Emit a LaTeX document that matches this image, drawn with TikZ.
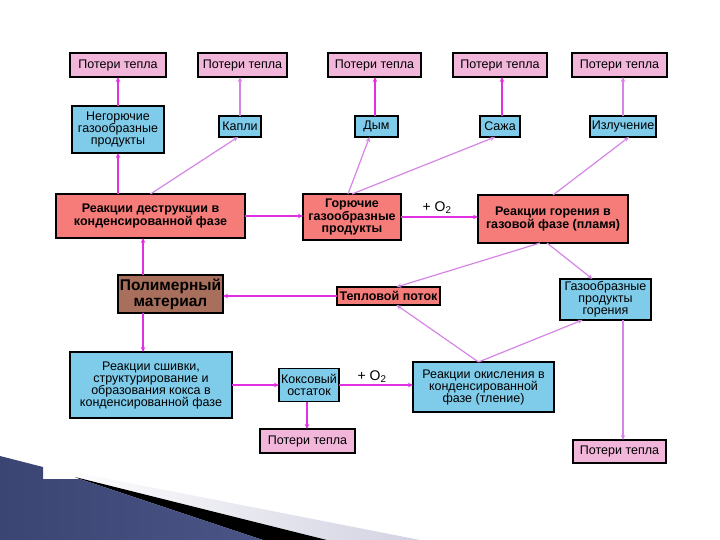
\documentclass[tikz,border=0pt]{standalone}
\usepackage{fontspec}
\setmainfont{Liberation Sans}
\usetikzlibrary{arrows.meta,calc}
\definecolor{pinkf}{HTML}{F2B6DA}
\definecolor{bluef}{HTML}{7FCBEA}
\definecolor{redf}{HTML}{F67C7A}
\definecolor{brownf}{HTML}{A8705C}
\definecolor{mag}{HTML}{E030E0}
\definecolor{vio}{HTML}{D585E5}
\definecolor{slateA}{HTML}{3B4573}
\definecolor{slateB}{HTML}{7E87B8}
\definecolor{slateC}{HTML}{4A5587}
\definecolor{greyband}{HTML}{D2D2E2}
\begin{document}
\begin{tikzpicture}[x=1pt,y=-1pt,
  box/.style={draw=black,line width=1.5pt,inner sep=0pt,outer sep=0pt,align=center,
    font=\fontsize{12.5}{12}\selectfont},
  loss/.style={box,fill=pinkf},
  bluebox/.style={box,fill=bluef},
  redbox/.style={box,fill=redf,font=\fontsize{12.5}{12.5}\selectfont\bfseries},
  arr/.style={draw=mag,line width=2.1pt,-{Stealth[length=5pt,width=4.5pt]}},
  arl/.style={draw=vio,line width=1.2pt,-{Stealth[length=5pt,width=4.5pt]}},
  oxy/.style={font=\fontsize{14}{14}\selectfont,inner sep=0pt}]
\useasboundingbox (0,0) rectangle (720,540);
% decorative ornament
\shade[left color=white,right color=greyband] (58,469) -- (420,540) -- (327,540) -- (75,477) -- cycle;
\fill[black] (75,477) -- (327,540) -- (263,540) -- (80,479) -- cycle;
\shade[left color=slateA,middle color=slateB,right color=slateC]
  (0,456) -- (43,467) -- (43,479) -- (80,479) -- (263,540) -- (0,540) -- cycle;
% top row
\node[loss,minimum width=96pt,minimum height=24pt] (p1) at (118,65) {Потери тепла};
\node[loss,minimum width=89pt,minimum height=24pt] (p2) at (242.5,65) {Потери тепла};
\node[loss,minimum width=93pt,minimum height=24pt] (p3) at (374.5,65) {Потери тепла};
\node[loss,minimum width=94pt,minimum height=24pt] (p4) at (500,65) {Потери тепла};
\node[loss,minimum width=95pt,minimum height=24pt] (p5) at (619.5,65) {Потери тепла};
% second row
\node[bluebox,minimum width=92pt,minimum height=47pt] (ng) at (118,129.5) {Негорючие\\газообразные\\продукты};
\node[bluebox,minimum width=42pt,minimum height=21pt] (kap) at (240,126.5) {Капли};
\node[bluebox,minimum width=43pt,minimum height=21pt] (dym) at (376.5,126.5) {Дым};
\node[bluebox,minimum width=40pt,minimum height=21pt] (saz) at (500,126.5) {Сажа};
\node[bluebox,minimum width=66pt,minimum height=21pt] (izl) at (623,126.5) {Излучение};
% third row
\node[redbox,minimum width=189pt,minimum height=44pt] (des) at (150.5,216) {Реакции деструкции в\\конденсированной фазе};
\node[redbox,minimum width=98pt,minimum height=46pt] (gor) at (352,217) {Горючие\\газообразные\\продукты};
\node[redbox,minimum width=150pt,minimum height=48pt] (pl) at (553,219) {Реакции горения в\\газовой фазе (пламя)};
% fourth row
\node[box,fill=brownf,minimum width=105pt,minimum height=38pt,font=\fontsize{15.5}{16}\selectfont\bfseries] (pol) at (170.5,294) {Полимерный\\материал};
\node[redbox,minimum width=103pt,minimum height=18pt] (tep) at (388.5,296) {Тепловой поток};
\node[bluebox,minimum width=91pt,minimum height=41pt] (gpg) at (605.5,299.5) {Газообразные\\продукты\\горения};
% fifth row
\node[bluebox,minimum width=162pt,minimum height=66pt] (ssh) at (151,385) {Реакции сшивки,\\структурирование и\\образования кокса в\\конденсированной фазе};
\node[bluebox,minimum width=60pt,minimum height=33pt] (kok) at (309,385) {Коксовый\\остаток};
\node[bluebox,minimum width=141pt,minimum height=50pt] (oki) at (483.5,387) {Реакции окисления в\\конденсированной\\фазе (тление)};
% bottom
\node[loss,minimum width=95pt,minimum height=24pt] (pb1) at (307.5,441) {Потери тепла};
\node[loss,minimum width=93pt,minimum height=23pt] (pb2) at (619.5,451.5) {Потери тепла};
% labels
\node[oxy] (o1) at (437,208) {+ O\textsubscript{2}};
\node[oxy] (o2) at (372,377) {+ O\textsubscript{2}};
% connectors to top losses
\draw[arr] (ng.north) -- (ng.north |- p1.south);
\draw[arl] (kap.north) -- (kap.north |- p2.south);
\draw[arr] ([xshift=-1.5pt]dym.north) -- ([xshift=-1.5pt]dym.north |- p3.south);
\draw[arr] ([xshift=2pt]saz.north) -- ([xshift=2pt]saz.north |- p4.south);
\draw[arl] (izl.north) -- (izl.north |- p5.south);
% from destruction
\draw[arr] (ng.south |- des.north) -- (ng.south);
\draw[arl] (des.north) -- ([xshift=-2pt]kap.south);
\draw[arr] (des.east) -- (des.east -| gor.west);
% from combustible gases
\draw[arl] ([xshift=-4pt]gor.north) -- ([xshift=-7pt]dym.south);
\draw[arl] (gor.north) -- ([xshift=-5pt]saz.south);
\draw[arr] (gor.east) -- (gor.east -| pl.west);
% from flame
\draw[arl] (pl.north) -- ([xshift=6pt]izl.south);
\draw[arl] ([xshift=-13pt]pl.south) -- ([xshift=8pt]tep.north);
\draw[arl] ([xshift=-6pt]pl.south) -- ([xshift=-13pt]gpg.north);
% polymer
\draw[arr] (tep.west) -- (tep.west -| pol.east);
\draw[arr] ([xshift=25pt]pol.north west) -- ([xshift=25pt]pol.north west |- des.south);
\draw[arr] ([xshift=25pt]pol.south west) -- ([xshift=25pt]pol.south west |- ssh.north);
% char
\draw[arr] (ssh.east) -- (ssh.east -| kok.west);
\draw[arr] (kok.east) -- (kok.east -| oki.west);
\draw[arr] ([xshift=-2pt]kok.south) -- ([xshift=-2pt]kok.south |- pb1.north);
% oxidation
\draw[arl] ([xshift=-5pt]oki.north) -- ([xshift=8pt]tep.south);
\draw[arl] ([xshift=-5pt]oki.north) -- ([xshift=-23pt]gpg.south);
\draw[arl] ([xshift=17.5pt]gpg.south) -- ([xshift=17.5pt]gpg.south |- pb2.north);
\end{tikzpicture}
\end{document}
